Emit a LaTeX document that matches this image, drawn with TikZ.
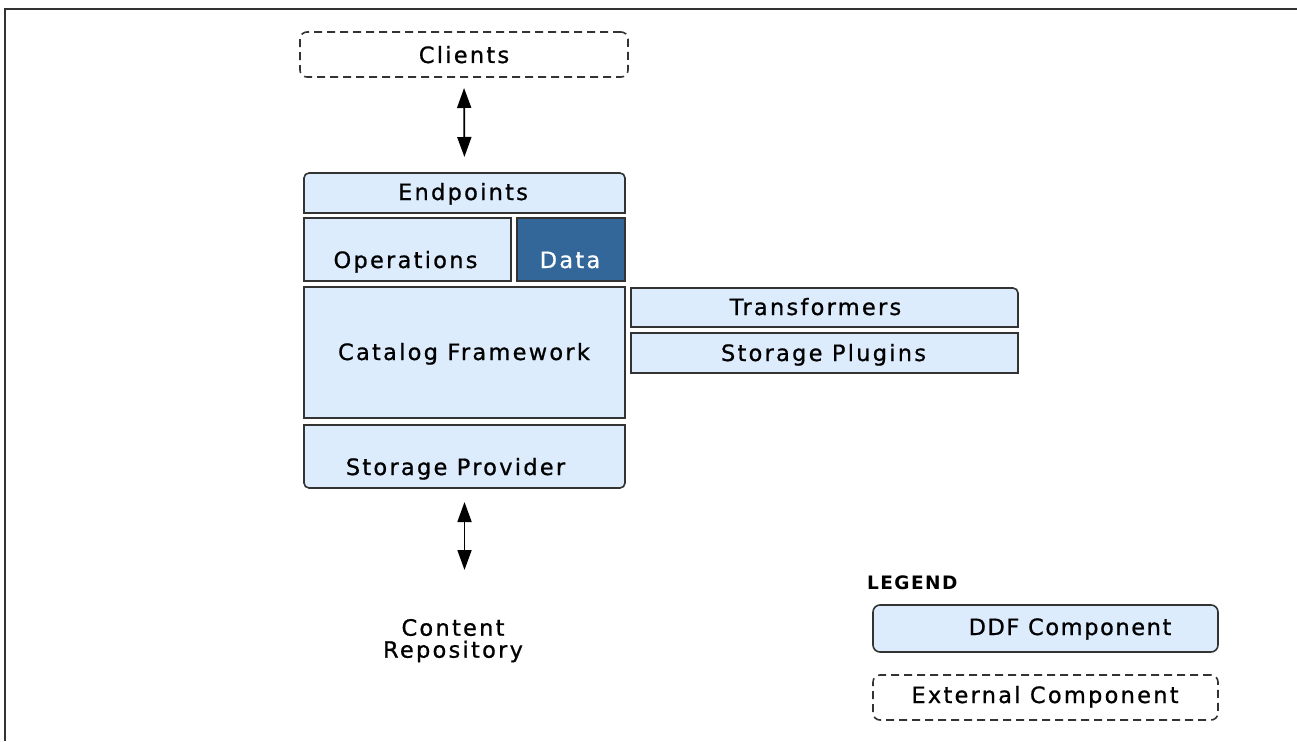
\documentclass[tikz,border=0pt]{standalone}
\usepackage{fontspec}
\setmainfont{DejaVu Sans}[LetterSpace=10, FakeBold=0.8]
\newfontfamily\legendfont{DejaVu Sans}[LetterSpace=8]
\usetikzlibrary{arrows.meta}
\definecolor{ddf}{RGB}{221,236,253}
\definecolor{datab}{RGB}{51,102,153}
\definecolor{edgec}{RGB}{51,51,51}
\tikzset{
  every node/.style={inner sep=0pt, outer sep=0pt},
  bigfont/.style={font=\fontsize{22.5}{22}\selectfont},
  cellshape/.style={draw=edgec, line width=1.6pt, fill=ddf},
  cellbox/.style={rectangle, draw=edgec, line width=1.6pt, fill=ddf},
  holder/.style={rectangle, draw=none},
  extbox/.style={rectangle, draw=edgec, line width=1.6pt, dash pattern=on 8pt off 5pt, rounded corners=7pt, fill=white},
  ddfbox/.style={rectangle, draw=edgec, line width=1.6pt, fill=ddf, rounded corners=7pt},
  lbl/.style={bigfont, anchor=base, text=black},
  dbl/.style={{Triangle[length=20pt,width=14pt]}-{Triangle[length=20pt,width=14pt]}, line width=1.8pt, black},
}
\begin{document}
\begin{tikzpicture}[x=1pt,y=-1pt]
\useasboundingbox (0,0) rectangle (1297,741);
\fill[white] (0,0) rectangle (1297,741);
\draw[edgec, line width=2pt] (5,741) -- (5,9) -- (1297,9);

% external clients
\node[extbox, minimum width=328pt, minimum height=45pt] (clients) at (464,54.5) {};
\node[lbl] (clientsL) at (464,63) {Clients};

% endpoints (rounded top corners)
\node[holder, minimum width=321pt, minimum height=40pt] (endp) at (464.5,193) {};
\path[cellshape] (endp.south west) [rounded corners=5pt] -- (endp.north west) -- (endp.north east) [sharp corners] -- (endp.south east) -- cycle;
\node[lbl] (endpL) at (463,200) {Endpoints};

% operations / data
\node[cellbox, minimum width=207pt, minimum height=63pt] (ops) at (407.5,249.5) {};
\node[lbl] (opsL) at (405.5,268) {Operations};
\node[cellbox, fill=datab, minimum width=108pt, minimum height=63pt] (data) at (571,249.5) {};
\node[lbl, text=white] (dataL) at (570,268) {Data};

% catalog framework
\node[cellbox, minimum width=321pt, minimum height=131pt] (cat) at (464.5,352.5) {};
\node[lbl] (catL) at (464,360) {Catalog Framework};

% storage provider (rounded bottom corners)
\node[holder, minimum width=321pt, minimum height=63pt] (sp) at (464.5,456.5) {};
\path[cellshape] (sp.north east) -- (sp.north west) [rounded corners=5pt] -- (sp.south west) -- (sp.south east) [sharp corners] -- (sp.north east) -- cycle;
\node[lbl] (spL) at (455.5,475) {Storage Provider};

% transformers / storage plugins
\node[holder, minimum width=387pt, minimum height=39pt] (trans) at (824.5,307.5) {};
\path[cellshape] (trans.south west) -- (trans.north west) [rounded corners=5pt] -- (trans.north east) [sharp corners] -- (trans.south east) -- cycle;
\node[lbl] (transL) at (815.5,315) {Transformers};
\node[cellbox, minimum width=387pt, minimum height=40pt] (plug) at (824.5,353) {};
\node[lbl] (plugL) at (823.5,361) {Storage Plugins};

% content repository
\node[bigfont, align=center, anchor=north] (repo) at (453,619) {Content\\Repository};

% arrows
\draw[dbl, shorten <=11pt, shorten >=16pt] (clients.south) -- (endp.north);
\draw[dbl, shorten <=14pt, shorten >=49pt] (sp.south) -- (sp.south |- repo.north);

% legend
\node[anchor=base west, font=\legendfont\bfseries\fontsize{18.5}{18.5}\selectfont] (legend) at (867,589) {LEGEND};
\node[ddfbox, minimum width=345pt, minimum height=47pt] (ddf) at (1045.5,628.5) {};
\node[lbl, font=\fontsize{22.5}{22}\selectfont\addfontfeatures{LetterSpace=7}] (ddfL) at (1070,635) {DDF Component};
\node[extbox, minimum width=345pt, minimum height=45pt] (ext) at (1045.5,697.5) {};
\node[lbl] (extL) at (1045,703) {External Component};
\end{tikzpicture}
\end{document}
